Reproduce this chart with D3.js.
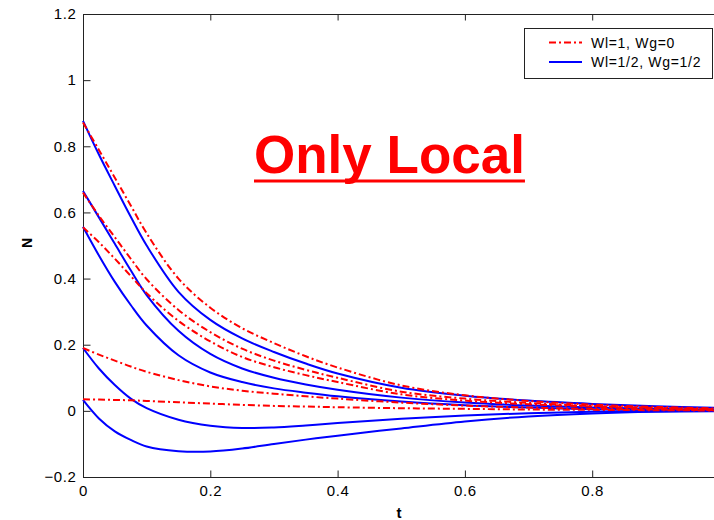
<!DOCTYPE html>
<html>
<head>
  <meta charset="utf-8">
  <title>Only Local</title>
  <script src="https://d3js.org/d3.v7.min.js"></script>
  <style>
    body { margin: 0; background: #fff; overflow: hidden; }
    svg { display: block; font-family: "Liberation Sans", Arial, sans-serif; }
    .axis path, .axis line { stroke: #222; }
    .axis text { font-size: 15px; letter-spacing: 0.6px; fill: #000; }
  </style>
</head>
<body>
  <svg width="714" height="520"></svg>
  <script>
    // sample times along t
    var tVals = [0, 0.025, 0.05, 0.075, 0.1, 0.15, 0.2, 0.25, 0.3, 0.35, 0.4, 0.5, 0.6, 0.7, 0.8, 0.9, 1.0];

    // Wl=1, Wg=0 (red dash-dot)
    var local1 = [0.872, 0.789, 0.705, 0.621, 0.537, 0.40, 0.312, 0.25, 0.205, 0.165, 0.131, 0.077, 0.047, 0.03, 0.019, 0.012, 0.007];
    var local2 = [0.66, 0.59, 0.525, 0.46, 0.398, 0.305, 0.238, 0.188, 0.152, 0.124, 0.10, 0.058, 0.037, 0.024, 0.015, 0.009, 0.005];
    var local3 = [0.555, 0.51, 0.46, 0.408, 0.356, 0.272, 0.21, 0.163, 0.132, 0.108, 0.087, 0.05, 0.031, 0.02, 0.013, 0.008, 0.004];
    var local4 = [0.19, 0.17, 0.152, 0.134, 0.118, 0.093, 0.074, 0.061, 0.052, 0.044, 0.037, 0.025, 0.016, 0.01, 0.006, 0.004, 0.002];
    var local5 = [0.035, 0.034, 0.033, 0.032, 0.03, 0.026, 0.022, 0.018, 0.015, 0.013, 0.011, 0.008, 0.006, 0.004, 0.003, 0.002, 0.001];

    // Wl=1/2, Wg=1/2 (blue solid)
    var mixed1 = [0.877, 0.775, 0.68, 0.587, 0.50, 0.36, 0.275, 0.219, 0.178, 0.143, 0.113, 0.07, 0.046, 0.031, 0.021, 0.014, 0.009];
    var mixed2 = [0.665, 0.585, 0.505, 0.425, 0.35, 0.242, 0.172, 0.128, 0.10, 0.08, 0.064, 0.04, 0.025, 0.016, 0.01, 0.006, 0.003];
    var mixed3 = [0.557, 0.47, 0.39, 0.32, 0.258, 0.168, 0.116, 0.087, 0.068, 0.055, 0.044, 0.028, 0.017, 0.01, 0.005, 0.002, 0.0];
    var mixed4 = [0.19, 0.128, 0.078, 0.037, 0.008, -0.027, -0.045, -0.052, -0.05, -0.044, -0.037, -0.024, -0.014, -0.007, -0.003, -0.001, 0.0];
    var mixed5 = [0.033, -0.023, -0.062, -0.088, -0.108, -0.122, -0.123, -0.114, -0.1, -0.087, -0.075, -0.053, -0.032, -0.017, -0.008, -0.003, -0.001];

    var xTicks = [0, 0.2, 0.4, 0.6, 0.8];
    var xTickLabels = ["0", "0.2", "0.4", "0.6", "0.8"];
    var yTicks = [-0.2, 0, 0.2, 0.4, 0.6, 0.8, 1, 1.2];
    var yTickLabels = ["\u22120.2", "0", "0.2", "0.4", "0.6", "0.8", "1", "1.2"];

    var legendLabels = ["Wl=1, Wg=0", "Wl=1/2, Wg=1/2"];
    var titleText = "Only Local";

    // plot box (right edge falls just outside the window, as in the original)
    var boxLeft = 83, boxRight = 719.5, boxTop = 14, boxBottom = 477;

    var x = d3.scaleLinear().domain([0, 1]).range([boxLeft, boxRight]);
    var y = d3.scaleLinear().domain([-0.2, 1.2]).range([boxBottom, boxTop]);

    var svg = d3.select("svg");

    // frame
    svg.append("rect")
        .attr("x", boxLeft + 0.5).attr("y", boxTop + 0.5)
        .attr("width", boxRight - boxLeft).attr("height", boxBottom - boxTop)
        .attr("fill", "none").attr("stroke", "#222").attr("stroke-width", 1);

    // axes with inward ticks
    svg.append("g")
        .attr("class", "axis")
        .attr("transform", "translate(" + (boxLeft + 0.5) + ",0)")
        .call(d3.axisLeft(y).tickValues(yTicks)
          .tickFormat(function(d, i) { return yTickLabels[i]; })
          .tickSizeInner(-7).tickSizeOuter(0).tickPadding(7))
        .select(".domain").remove();

    svg.append("g")
        .attr("class", "axis")
        .attr("transform", "translate(0," + (boxBottom + 0.5) + ")")
        .call(d3.axisBottom(x).tickValues(xTicks)
          .tickFormat(function(d, i) { return xTickLabels[i]; })
          .tickSizeInner(-7).tickSizeOuter(0).tickPadding(8))
        .select(".domain").remove();

    svg.append("g")
        .attr("class", "axis")
        .attr("transform", "translate(0," + (boxTop + 0.5) + ")")
        .call(d3.axisTop(x).tickValues(xTicks).tickFormat("")
          .tickSizeInner(-6).tickSizeOuter(0))
        .select(".domain").remove();

    // axis labels
    svg.append("text")
        .attr("transform", "translate(32,243) rotate(-90)")
        .attr("text-anchor", "middle")
        .style("font-size", "14px").style("font-weight", "bold")
        .text("N");

    svg.append("text")
        .attr("x", 399).attr("y", 518)
        .attr("text-anchor", "middle")
        .style("font-size", "15px").style("font-weight", "bold")
        .text("t");

    // curves
    var line = d3.line()
        .x(function(d, i) { return x(tVals[i]); })
        .y(function(d) { return y(d); })
        .curve(d3.curveCatmullRom.alpha(0.5));

    var localSeries = [local1, local2, local3, local4, local5];
    var mixedSeries = [mixed1, mixed2, mixed3, mixed4, mixed5];

    svg.selectAll(".mixed")
        .data(mixedSeries)
      .enter().append("path")
        .attr("class", "mixed")
        .attr("d", line)
        .attr("fill", "none")
        .attr("stroke", "#0000ff")
        .attr("stroke-width", 2);

    svg.selectAll(".local")
        .data(localSeries)
      .enter().append("path")
        .attr("class", "local")
        .attr("d", line)
        .attr("fill", "none")
        .attr("stroke", "#ff0000")
        .attr("stroke-width", 2)
        .attr("stroke-dasharray", "7,3,2,3");

    // legend
    var lg = svg.append("g");
    lg.append("rect")
        .attr("x", 524.5).attr("y", 28.5)
        .attr("width", 188).attr("height", 50)
        .attr("fill", "#fff").attr("stroke", "#222");

    var legendStyles = [
      {color: "#ff0000", dash: "7,3,2,3"},
      {color: "#0000ff", dash: null}
    ];
    legendLabels.forEach(function(label, i) {
      var ly = 42.5 + i * 19.5;
      lg.append("line")
          .attr("x1", 549).attr("x2", 582)
          .attr("y1", ly).attr("y2", ly)
          .attr("stroke", legendStyles[i].color)
          .attr("stroke-width", 2)
          .attr("stroke-dasharray", legendStyles[i].dash);
      lg.append("text")
          .attr("x", 591).attr("y", ly + 5)
          .style("font-size", "14px").style("letter-spacing", "0.7px")
          .text(label);
    });

    // title annotation
    var title = svg.append("text")
        .attr("x", 254).attr("y", 173)
        .attr("fill", "#ff0000")
        .style("font-size", "53px").style("font-weight", "bold")
        .text(titleText);
    var tw = title.node().getComputedTextLength();
    svg.append("rect")
        .attr("x", 254).attr("y", 179.5)
        .attr("width", tw).attr("height", 3)
        .attr("fill", "#ff0000");
  </script>
</body>
</html>
